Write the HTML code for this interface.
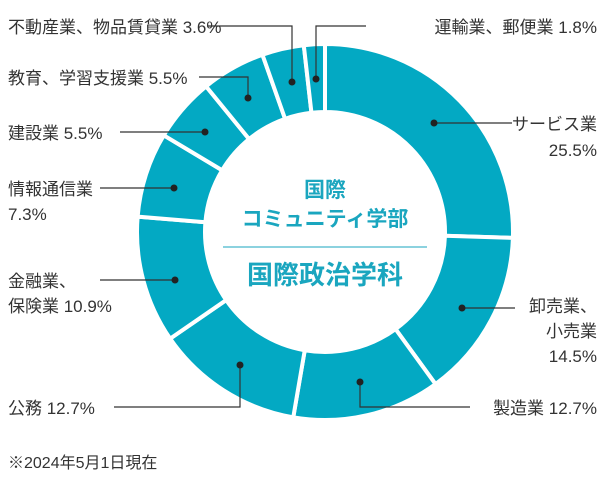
<!DOCTYPE html>
<html><head><meta charset="utf-8"><style>
body{margin:0;background:#fff;}
svg text{font-family:"Liberation Sans","Noto Sans CJK JP",sans-serif;fill:#333;}
</style></head><body>
<svg width="600" height="484" viewBox="0 0 600 484">
<g id="slices"></g>
<g id="center-title">
<text x="325" y="197" text-anchor="middle" font-size="21" font-weight="bold" style="fill:#1aa6bf">国際</text>
<text x="325" y="226" text-anchor="middle" font-size="21" font-weight="bold" style="fill:#1aa6bf">コミュニティ学部</text>
<line x1="223" y1="247" x2="427" y2="247" stroke="#1aa6bf" stroke-width="1"/>
<text x="325" y="284" text-anchor="middle" font-size="26" font-weight="bold" style="fill:#1aa6bf">国際政治学科</text>
</g>
<g fill="none" stroke="#333" stroke-width="1.2">
<polyline points="207,26 292,26 292,82"/>
<polyline points="366,26 316,26 316,79"/>
<polyline points="199,77 248,77 248,98"/>
<polyline points="120,132 205,132"/>
<polyline points="100,188 174,188"/>
<polyline points="100,280 175,280"/>
<polyline points="114,407 240,407 240,365"/>
<polyline points="360,382 360,407 470,407"/>
<polyline points="462,308 515,308"/>
<polyline points="434,123 512,123"/>
</g>
<g fill="#222">
<circle cx="292" cy="82" r="3.5"/><circle cx="316" cy="79" r="3.5"/><circle cx="248" cy="98" r="3.5"/>
<circle cx="205" cy="132" r="3.5"/><circle cx="174" cy="188" r="3.5"/><circle cx="175" cy="280" r="3.5"/>
<circle cx="240" cy="365" r="3.5"/><circle cx="360" cy="382" r="3.5"/><circle cx="462" cy="308" r="3.5"/>
<circle cx="434" cy="123" r="3.5"/>
</g>
<g font-size="17">
<text x="8" y="33">不動産業、物品賃貸業 3.6%</text>
<text x="597" y="33" text-anchor="end">運輸業、郵便業 1.8%</text>
<text x="8" y="84">教育、学習支援業 5.5%</text>
<text x="8" y="139">建設業 5.5%</text>
<text x="8" y="195">情報通信業</text>
<text x="8" y="220">7.3%</text>
<text x="8" y="287">金融業、</text>
<text x="8" y="312">保険業 10.9%</text>
<text x="8" y="414">公務 12.7%</text>
<text x="597" y="414" text-anchor="end">製造業 12.7%</text>
<text x="597" y="312" text-anchor="end">卸売業、</text>
<text x="597" y="337" text-anchor="end">小売業</text>
<text x="597" y="362" text-anchor="end">14.5%</text>
<text x="597" y="130" text-anchor="end">サービス業</text>
<text x="597" y="156" text-anchor="end">25.5%</text>
<text x="8" y="468" font-size="16">※2024年5月1日現在</text>
</g>
</svg>
<script>
const categories=["サービス業","卸売業、小売業","製造業","公務","金融業、保険業","情報通信業","建設業","教育、学習支援業","不動産業、物品賃貸業","運輸業、郵便業"];
const values=[25.5,14.5,12.7,12.7,10.9,7.3,5.5,5.5,3.6,1.8];
const cx=325,cy=232,R=188,r=120;
const g=document.getElementById('slices');
const total=values.reduce((a,b)=>a+b,0);
function pt(rad,a){return [cx+rad*Math.sin(a),cy-rad*Math.cos(a)];}
let acc=0;
values.forEach((v,i)=>{
  const a0=acc/total*2*Math.PI, a1=(acc+v)/total*2*Math.PI; acc+=v;
  const large=(a1-a0)>Math.PI?1:0;
  const p1=pt(R,a0),p2=pt(R,a1),p3=pt(r,a1),p4=pt(r,a0);
  const p=document.createElementNS('http://www.w3.org/2000/svg','path');
  p.setAttribute('d',`M${p1[0]},${p1[1]}A${R},${R} 0 ${large} 1 ${p2[0]},${p2[1]}L${p3[0]},${p3[1]}A${r},${r} 0 ${large} 0 ${p4[0]},${p4[1]}Z`);
  p.setAttribute('fill','#03a9c3');
  p.setAttribute('stroke','#fff');
  p.setAttribute('stroke-width','4');
  
  
  g.appendChild(p);
});
</script>
</body></html>
